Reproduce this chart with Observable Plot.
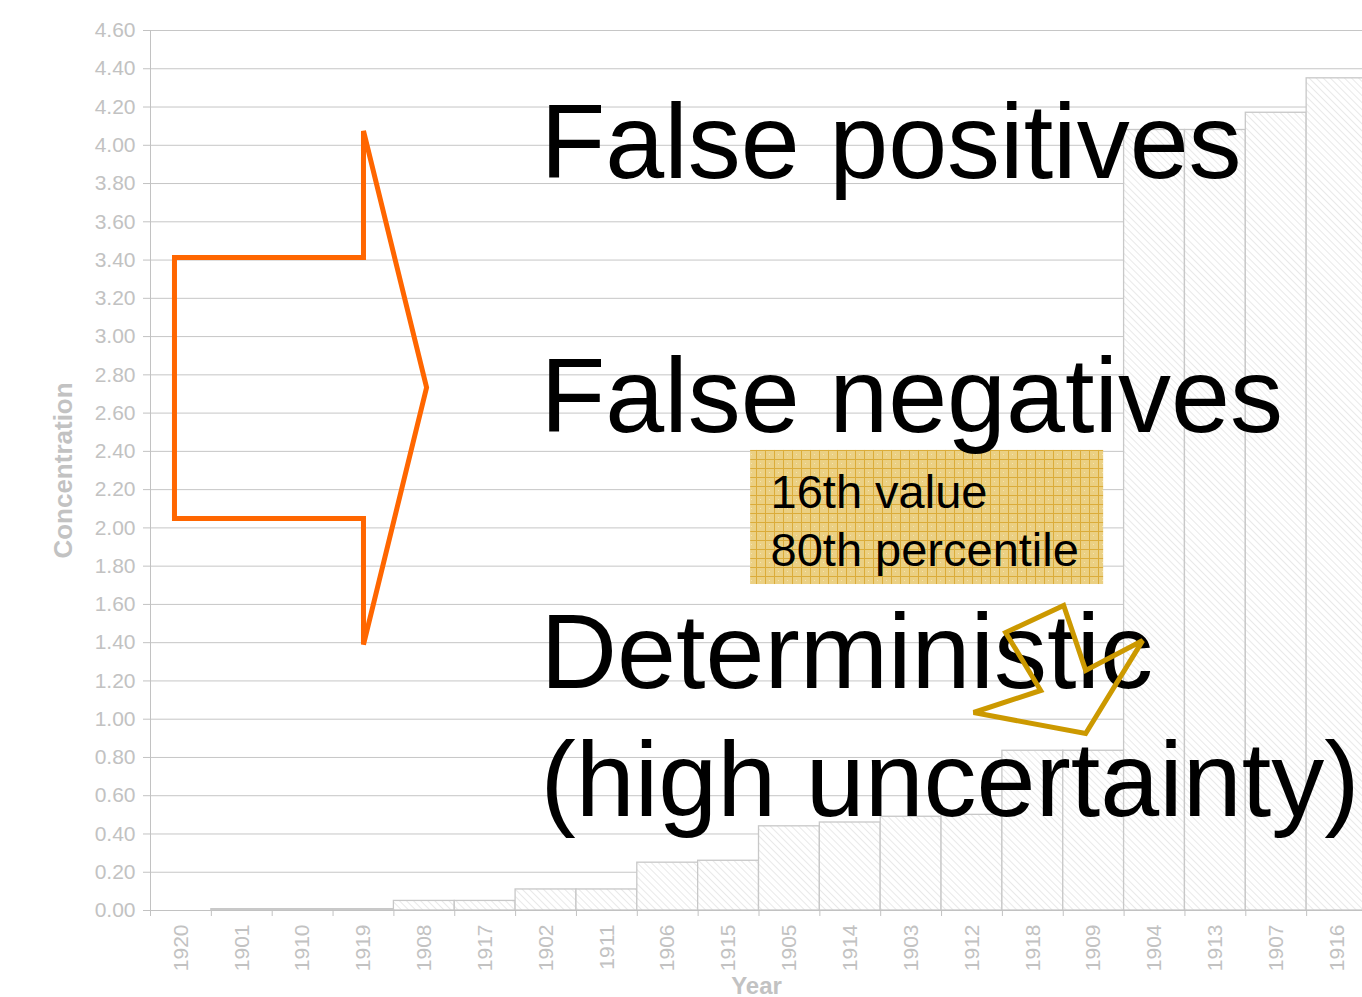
<!DOCTYPE html>
<html>
<head>
<meta charset="utf-8">
<script src="https://cdn.jsdelivr.net/npm/d3@7"></script>
<script src="https://cdn.jsdelivr.net/npm/@observablehq/plot@0.6"></script>
<style>
  html, body { margin: 0; padding: 0; background: #fff; overflow: hidden; }
  #chart svg { display: block; }
</style>
</head>
<body>
<div id="chart"></div>
<script>
// ---- Data ----
const years  = ["1920","1901","1910","1919","1908","1917","1902","1911","1906","1915",
                "1905","1914","1903","1912","1918","1909","1904","1913","1907","1916"];
const values = [0, 0.007, 0.007, 0.007, 0.05, 0.05, 0.11, 0.11, 0.25, 0.26,
                0.44, 0.46, 0.49, 0.50, 0.835, 0.835, 4.08, 4.08, 4.17, 4.35];
const yTicks = [0,0.2,0.4,0.6,0.8,1.0,1.2,1.4,1.6,1.8,2.0,2.2,2.4,2.6,2.8,3.0,3.2,3.4,3.6,3.8,4.0,4.2,4.4,4.6];
const yLabel = "Concentration";
const xLabel = "Year";

// ---- Annotations (in data units: x = category index, y = concentration) ----
const arrowX = [0.394, 3.50, 3.50, 4.537, 3.50, 3.50, 0.394, 0.394, 3.50];
const arrowY = [3.414, 3.414, 4.075, 2.734, 1.39, 2.049, 2.049, 3.414, 3.414];
const starX  = [14.053, 15.007, 15.368, 16.305, 15.368, 13.527, 14.629, 14.053, 15.007];
const starY  = [1.453, 1.594, 1.255, 1.411, 0.925, 1.035, 1.150, 1.453, 1.594];
const bigTexts = ["False positives", "False negatives", "Deterministic", "(high uncertainty)"];
const bigTextY = [4.004, 2.676, 1.338, 0.669];
const boxTexts = ["16th value", "80th percentile"];
const boxTextY = [2.185, 1.882];
const boxX = [9.862, 15.664];
const boxY = [1.704, 2.405];

const bars = years.map((yr, i) => ({i, year: yr, value: values[i]}));
const arrowPts = arrowX.map((x, i) => ({x, y: arrowY[i]}));
const starPts = starX.map((x, i) => ({x, y: starY[i]}));
const gray = "#c2c2c2";

const plot = Plot.plot({
  width: 1362,
  height: 997,
  marginLeft: 150,
  marginRight: 0,
  marginTop: 30,
  marginBottom: 87,
  style: {fontFamily: "'Liberation Sans', Arial, sans-serif", background: "white"},
  x: {type: "linear", domain: [0, 20], range: [150, 1367]},
  y: {domain: [0, 4.6], range: [910, 30]},
  marks: [
    Plot.gridY(yTicks, {stroke: "#c6c6c6", strokeOpacity: 1, strokeWidth: 1}),
    Plot.rectY(bars, {x1: "i", x2: d => d.i + 1, y: "value", fill: "url(#hatch)", stroke: "#c8c8c8", strokeWidth: 1.3}),
    Plot.ruleX([0], {stroke: gray}),
    Plot.ruleY([0], {stroke: gray}),
    Plot.axisY(yTicks, {tickSize: 7, tickPadding: 8, tickFormat: d3.format(".2f"), fontSize: 21, color: gray, label: null}),
    Plot.axisX(d3.range(21), {tickSize: 6, tickFormat: () => "", color: gray, label: null}),
    Plot.axisX(d3.range(20).map(i => i + 0.5), {tickSize: 0, tickPadding: 14, tickRotate: -90,
      tickFormat: d => years[Math.floor(d)], fontSize: 21, color: gray, label: null}),
    Plot.text([yLabel], {frameAnchor: "left", textAnchor: "middle", dx: -87, rotate: -90, fontSize: 26, fontWeight: "bold", fill: gray}),
    Plot.text([xLabel], {frameAnchor: "bottom", textAnchor: "middle", dy: 83, fontSize: 24, fontWeight: "bold", fill: gray}),
    // annotations
    Plot.line(arrowPts, {x: "x", y: "y", stroke: "#ff6600", strokeWidth: 5, strokeLinejoin: "miter", strokeMiterlimit: 2.5}),
    Plot.rect([0], {x1: boxX[0], x2: boxX[1], y1: boxY[0], y2: boxY[1], fill: "url(#goldgrid)"}),
    Plot.text(boxTexts, {x: 10.19, y: (d, i) => boxTextY[i], text: d => d, fontSize: 47, textAnchor: "start", fill: "black"}),
    Plot.text(bigTexts, {x: 6.41, y: (d, i) => bigTextY[i], text: d => d, fontSize: 106, textAnchor: "start", fill: "black"}),
    Plot.line(starPts, {x: "x", y: "y", stroke: "#cc9900", strokeWidth: 5, strokeLinejoin: "miter", strokeMiterlimit: 2.5})
  ]
});

// pattern definitions
const defs = d3.select(plot).insert("defs", ":first-child");
const hatch = defs.append("pattern").attr("id", "hatch").attr("patternUnits", "userSpaceOnUse")
  .attr("width", 5).attr("height", 5).attr("patternTransform", "rotate(-45)");
hatch.append("rect").attr("width", 5).attr("height", 5).attr("fill", "#ffffff");
hatch.append("line").attr("x1", 0).attr("y1", 0).attr("x2", 0).attr("y2", 5)
  .attr("stroke", "#e4e4e4").attr("stroke-width", 1.6);
const gg = defs.append("pattern").attr("id", "goldgrid").attr("patternUnits", "userSpaceOnUse")
  .attr("width", 9).attr("height", 9);
gg.append("rect").attr("width", 9).attr("height", 9).attr("fill", "#ebd083");
gg.append("path").attr("d", "M0,0.5H9M0.5,0V9").attr("stroke", "#dbac3a").attr("stroke-width", 1);
gg.append("rect").attr("x", 4).attr("y", 4).attr("width", 1).attr("height", 1).attr("fill", "#f5e4b0");

document.getElementById("chart").appendChild(plot);
</script>
</body>
</html>
